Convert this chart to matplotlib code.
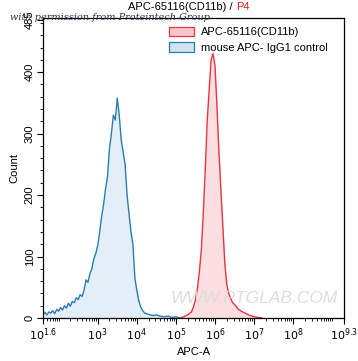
import matplotlib
matplotlib.use("Agg")
import matplotlib.pyplot as plt
import numpy as np
from matplotlib.patches import Patch
from matplotlib.ticker import FixedLocator, NullFormatter

plt.rcParams['font.family'] = ['Liberation Sans', 'DejaVu Sans']

# ---- data (log10 of APC-A, counts) ----
blue_log = [1.60, 1.65, 1.70, 1.75, 1.80, 1.85, 1.90, 1.95, 2.00, 2.05, 2.10, 2.15, 2.20,
            2.25, 2.30, 2.35, 2.40, 2.45, 2.50, 2.55, 2.60, 2.65, 2.70, 2.75, 2.80, 2.85,
            2.90, 2.95, 3.00, 3.05, 3.10, 3.15, 3.20, 3.25, 3.30, 3.35, 3.40, 3.45, 3.50,
            3.55, 3.60, 3.65, 3.70, 3.75, 3.80, 3.85, 3.90, 3.95, 4.00, 4.05, 4.10, 4.15,
            4.20, 4.30, 4.40, 4.50, 4.60, 4.70, 4.80, 4.90, 5.00, 5.10]
blue_cnt = [6, 9, 5, 10, 8, 12, 7, 14, 11, 17, 13, 20, 16,
            24, 19, 27, 25, 33, 30, 38, 35, 45, 62, 58, 72, 80,
            96, 105, 118, 140, 165, 185, 210, 230, 275, 300, 330, 322, 358,
            330, 290, 270, 250, 200, 170, 140, 120, 65, 45, 28, 18, 12,
            8, 6, 4, 5, 3, 2, 3, 1, 2, 0]

red_log = [5.10, 5.20, 5.30, 5.40, 5.45, 5.50, 5.55, 5.60, 5.65, 5.70, 5.75, 5.80, 5.85,
           5.90, 5.95, 6.00, 6.05, 6.10, 6.15, 6.20, 6.25, 6.30, 6.35, 6.40, 6.45, 6.50,
           6.55, 6.60, 6.70, 6.80, 6.90, 7.00, 7.10, 7.20]
red_cnt = [0, 2, 5, 10, 18, 30, 48, 75, 110, 170, 240, 320, 370,
           420, 430, 410, 345, 270, 210, 150, 90, 55, 40, 32, 25, 22,
           18, 14, 10, 7, 4, 2, 1, 0]

series_names = ["APC-65116(CD11b)", "mouse APC- IgG1 control"]
x_tick_exp = [1.6, 3, 4, 5, 6, 7, 8, 9.3]
x_tick_labels = [r"$10^{1.6}$", r"$10^{3}$", r"$10^{4}$", r"$10^{5}$", r"$10^{6}$",
                 r"$10^{7}$", r"$10^{8}$", r"$10^{9.3}$"]
y_ticks = [0, 100, 200, 300, 400, 485]

# ---- figure ----
fig = plt.figure(figsize=(3.58, 3.61), dpi=100)
ax = fig.add_axes([43/358, 1 - 318/361, (344-43)/358, (318-18)/361])

bx = 10 ** np.array(blue_log)
rx = 10 ** np.array(red_log)
blue_line = '#2b7bb5'
red_line = '#e8343e'
ax.fill_between(bx, 0, blue_cnt, color='#e3eff8', lw=0)
ax.plot(bx, blue_cnt, color=blue_line, lw=1.0)
ax.fill_between(rx, 0, red_cnt, color='#fbdfe0', lw=0)
ax.plot(rx, red_cnt, color=red_line, lw=1.0)

ax.set_xscale('log')
ax.set_xlim(10 ** 1.6, 10 ** 9.3)
ax.set_ylim(0, 488)

ax.xaxis.set_major_locator(FixedLocator([10 ** e for e in x_tick_exp]))
ax.set_xticklabels(x_tick_labels)
minor = []
for d in range(1, 10):
    for m in range(1, 10):
        v = m * 10 ** d
        if 10 ** 1.6 < v < 10 ** 9.3:
            minor.append(v)
ax.xaxis.set_minor_locator(FixedLocator(minor))
ax.xaxis.set_minor_formatter(NullFormatter())

ax.set_yticks(y_ticks)
ax.set_yticklabels([str(v) for v in y_ticks], rotation=90, va='center')
ax.yaxis.set_minor_locator(FixedLocator([v for v in range(20, 481, 20) if v % 100]))

ax.tick_params(axis='both', which='major', length=4, width=0.8, labelsize=8, direction='out')
ax.tick_params(axis='both', which='minor', length=2, width=0.6, direction='out')
ax.tick_params(axis='x', pad=2)
ax.tick_params(axis='y', pad=2)
for s in ax.spines.values():
    s.set_linewidth(0.9)

ax.set_xlabel("APC-A", fontsize=8, labelpad=3)
ax.set_ylabel("Count", fontsize=8, labelpad=4)

# title with red P4
tx = 236 / 358
fig.text(tx, 1 - 7/361, "APC-65116(CD11b) / ", ha='right', va='center', fontsize=8)
fig.text(tx, 1 - 7/361, "P4", ha='left', va='center', fontsize=8, color='#e02020')

handles = [Patch(facecolor='#f7c6c9', edgecolor=red_line, lw=0.9),
           Patch(facecolor='#cfe3f2', edgecolor=blue_line, lw=0.9)]
leg = ax.legend(handles, series_names, loc='upper right', bbox_to_anchor=(0.974, 1.0),
                frameon=False, fontsize=8, handlelength=2.2, handleheight=0.9,
                handletextpad=0.6, labelspacing=0.45, borderaxespad=0.4)

# watermarks
fig.text(10/358, 1 - 17/361, "with permission from Proteintech Group", fontsize=7,
         family='DejaVu Serif', style='italic', color='#303050', ha='left', va='center')
ax.text(0.70, 0.065, "WWW.PTGLAB.COM", transform=ax.transAxes, fontsize=12.5,
        style='italic', color='#dadada', ha='center', va='center', alpha=0.9)

fig.savefig("out.png", dpi=100)
